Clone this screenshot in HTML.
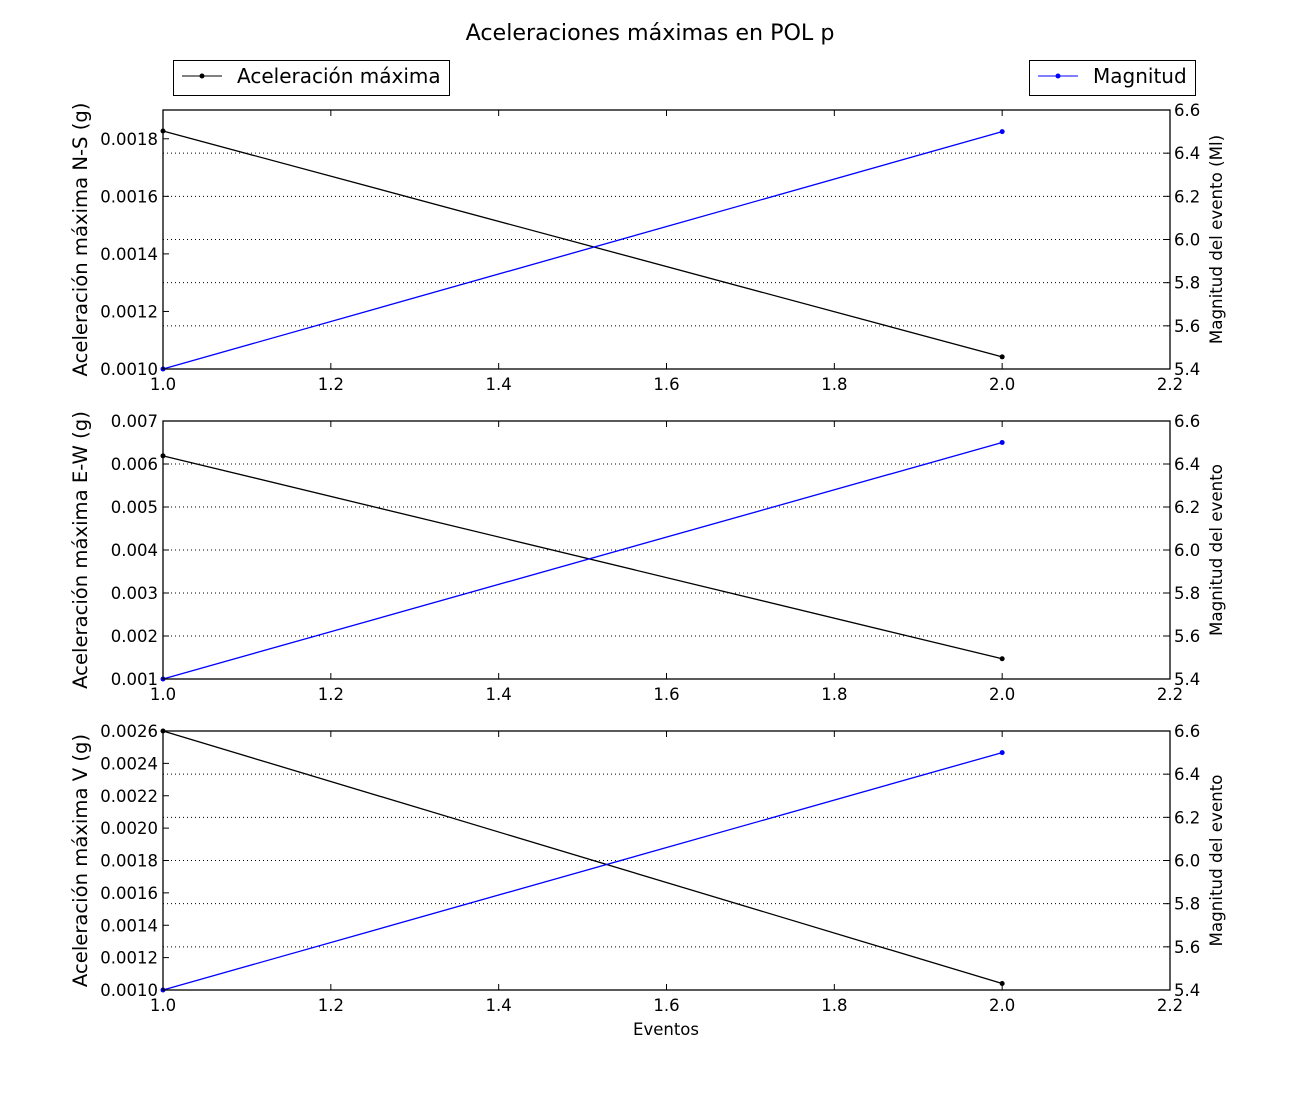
<!DOCTYPE html>
<html><head><meta charset="utf-8"><style>
body{margin:0;background:#fff}
svg{display:block;font-family:"DejaVu Sans","Liberation Sans",sans-serif}
</style></head><body>
<svg id="chart" width="1300" height="1100">
<text x="650" y="40" text-anchor="middle" font-size="22.2">Aceleraciones máximas en POL p</text>
<g>
<rect x="173.5" y="60.5" width="276" height="35" fill="#fff" stroke="#000"/>
<line x1="182" y1="76" x2="222" y2="76" stroke="#000"/><circle cx="202" cy="76" r="2.5"/>
<text x="237" y="83" font-size="20">Aceleración máxima</text></g>
<g>
<rect x="1029.5" y="60.5" width="166" height="35" fill="#fff" stroke="#000"/>
<line x1="1038" y1="76" x2="1078" y2="76" stroke="#00f"/><circle cx="1058" cy="76" r="2.5" fill="#00f"/>
<text x="1093" y="83" font-size="20">Magnitud</text></g>
<text x="666" y="1035" text-anchor="middle" font-size="16.5">Eventos</text>
</svg>
<script>
const xValues=[1.0,2.0];
const xTicks=[1.0,1.2,1.4,1.6,1.8,2.0,2.2];
const magnitude=[5.4,6.5];
const rightTicks=[5.4,5.6,5.8,6.0,6.2,6.4,6.6];
const accNS=[0.001827,0.001042];
const accEW=[0.00619,0.00147];
const accV=[0.0026,0.00104];
const ticksNS=["0.0010","0.0012","0.0014","0.0016","0.0018"];
const ticksEW=["0.001","0.002","0.003","0.004","0.005","0.006","0.007"];
const ticksV=["0.0010","0.0012","0.0014","0.0016","0.0018","0.0020","0.0022","0.0024","0.0026"];
const panels=[
 {top:110,bot:369,acc:accNS,lt:ticksNS,lmin:0.001,lmax:0.0019,ll:"Aceleración máxima N-S (g)",rl:"Magnitud del evento (Ml)",n:"ns"},
 {top:421,bot:679,acc:accEW,lt:ticksEW,lmin:0.001,lmax:0.007,ll:"Aceleración máxima E-W (g)",rl:"Magnitud del evento",n:"ew"},
 {top:731,bot:990,acc:accV,lt:ticksV,lmin:0.001,lmax:0.0026,ll:"Aceleración máxima V (g)",rl:"Magnitud del evento",n:"v"}];
const L=163,R=1170,svg=document.getElementById('chart'),NS='http://www.w3.org/2000/svg';
const sx=v=>L+(v-1.0)/1.2*(R-L);
function mk(t,a,p){const e=document.createElementNS(NS,t);for(const k in a)e.setAttribute(k,a[k]);(p||svg).appendChild(e);return e;}
panels.forEach(p=>{
 const g=mk('g',{});
 
 
 const ly=v=>p.bot-(v-p.lmin)/(p.lmax-p.lmin)*(p.bot-p.top);
 const ry=v=>p.bot-(v-5.4)/1.2*(p.bot-p.top);
 rightTicks.forEach(t=>{const y=ry(t);
  if(t>5.41&&t<6.59)mk('line',{x1:L,x2:R,y1:y,y2:y,stroke:'#000','stroke-dasharray':'1,3','stroke-width':1},g);
  mk('line',{x1:R,x2:R-6,y1:y,y2:y,stroke:'#000'},g);
  mk('text',{x:R+4,y:y+6,'font-size':16.5},g).textContent=t.toFixed(1);});
 p.lt.forEach(s=>{const y=ly(parseFloat(s));
  mk('line',{x1:L,x2:L+6,y1:y,y2:y,stroke:'#000'},g);
  mk('text',{x:L-5,y:y+6,'font-size':16.5,'text-anchor':'end'},g).textContent=s;});
 xTicks.forEach(t=>{const x=sx(t);
  mk('line',{x1:x,x2:x,y1:p.bot,y2:p.bot-6,stroke:'#000'},g);
  mk('line',{x1:x,x2:x,y1:p.top,y2:p.top+6,stroke:'#000'},g);
  mk('text',{x:x,y:p.bot+21,'font-size':16.5,'text-anchor':'middle'},g).textContent=t.toFixed(1);});
 const bl=mk('polyline',{points:xValues.map((v,i)=>sx(v)+','+ly(p.acc[i])).join(' '),fill:'none',stroke:'#000','stroke-width':1.3},g);
 
 
 xValues.forEach((v,i)=>mk('circle',{cx:sx(v),cy:ly(p.acc[i]),r:2.5,fill:'#000'},g));
 const mg=mk('polyline',{points:xValues.map((v,i)=>sx(v)+','+ry(magnitude[i])).join(' '),fill:'none',stroke:'#00f','stroke-width':1.3},g);
 
 
 xValues.forEach((v,i)=>mk('circle',{cx:sx(v),cy:ry(magnitude[i]),r:2.5,fill:'#00f'},g));
 mk('rect',{x:L,y:p.top,width:R-L,height:p.bot-p.top,fill:'none',stroke:'#000','stroke-width':1.3},g);
 const cy=(p.top+p.bot)/2;
 const t1=mk('text',{x:0,y:0,'font-size':19.6,'text-anchor':'middle',transform:`translate(87,${cy}) rotate(-90)`},g);t1.textContent=p.ll;
 
 
 const t2=mk('text',{x:0,y:0,'font-size':16.7,'text-anchor':'middle',transform:`translate(1222,${cy}) rotate(-90)`},g);t2.textContent=p.rl;
 
 
});
</script>
</body></html>
